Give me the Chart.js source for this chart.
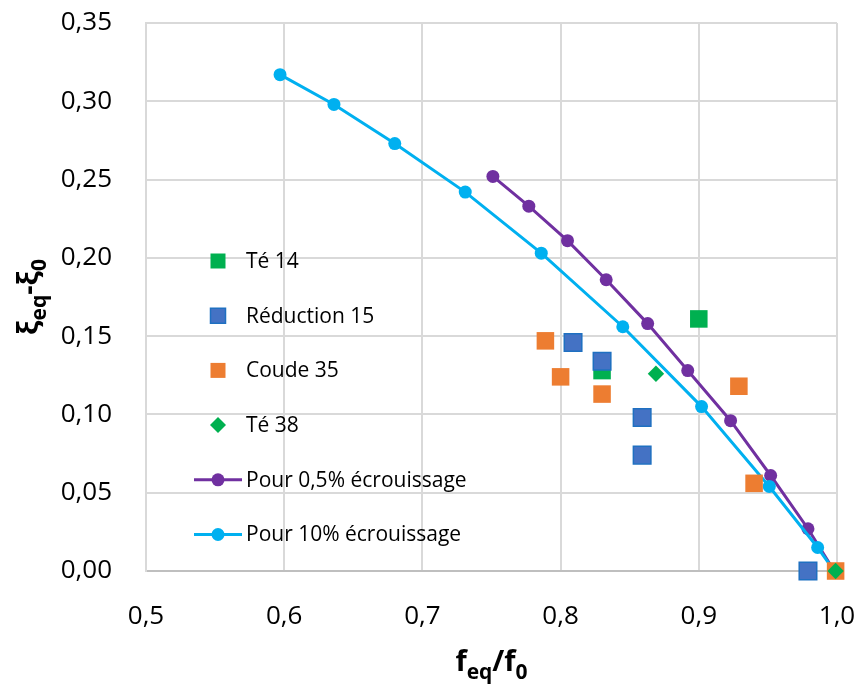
<!DOCTYPE html>
<html lang="fr">
<head>
<meta charset="utf-8">
<title>ξeq-ξ0 en fonction de feq/f0</title>
<script src="https://cdn.jsdelivr.net/npm/chart.js@4.4.1/dist/chart.umd.min.js"></script>
<style>
  html, body { margin: 0; padding: 0; background: #fff; }
  #wrap { width: 863px; height: 693px; }
</style>
</head>
<body>
<div id="wrap"><canvas id="chart" width="863" height="693"></canvas></div>
<script>
"use strict";

/* ─── Data ─── */
const xTicks = [0.5, 0.6, 0.7, 0.8, 0.9, 1.0];
const xTickLabels = ["0,5", "0,6", "0,7", "0,8", "0,9", "1,0"];
const yTicks = [0, 0.05, 0.10, 0.15, 0.20, 0.25, 0.30, 0.35];
const yTickLabels = ["0,00", "0,05", "0,10", "0,15", "0,20", "0,25", "0,30", "0,35"];

const te14X = [0.900, 0.830];
const te14Y = [0.161, 0.128];

const reduc15X = [0.809, 0.830, 0.859, 0.859, 0.979];
const reduc15Y = [0.146, 0.134, 0.098, 0.074, 0.000];

const coude35X = [0.789, 0.800, 0.830, 0.929, 0.940, 0.999];
const coude35Y = [0.147, 0.124, 0.113, 0.118, 0.056, 0.000];

const te38X = [0.869, 0.999];
const te38Y = [0.126, 0.000];

const ecr05X = [0.751, 0.777, 0.805, 0.833, 0.863, 0.892, 0.923, 0.952, 0.979, 0.998];
const ecr05Y = [0.252, 0.233, 0.211, 0.186, 0.158, 0.128, 0.096, 0.061, 0.027, 0.000];

const ecr10X = [0.597, 0.636, 0.680, 0.731, 0.786, 0.845, 0.902, 0.951, 0.986, 0.998];
const ecr10Y = [0.317, 0.298, 0.273, 0.242, 0.203, 0.156, 0.105, 0.054, 0.015, 0.000];

const pts = (xs, ys) => xs.map((x, i) => ({ x, y: ys[i] }));

const FONT = "'Open Sans', 'Noto Sans', sans-serif";
Chart.defaults.font.family = FONT;
Chart.defaults.color = "#000";

/* ─── Rich text (subscripts) ─── */
const drawRich = (ctx, parts, cx, y) => {
  const main = `bold 29px ${FONT}`;
  const sub = `bold 21px ${FONT}`;
  let total = 0;
  parts.forEach((p) => {
    ctx.font = p.sub ? sub : main;
    p.w = ctx.measureText(p.t).width;
    total += p.w;
  });
  let x = cx - total / 2;
  ctx.textAlign = "left";
  ctx.textBaseline = "alphabetic";
  ctx.fillStyle = "#000";
  parts.forEach((p) => {
    ctx.font = p.sub ? sub : main;
    ctx.fillText(p.t, x, p.sub ? y + 8 : y);
    x += p.w;
  });
};

/* ─── Legend (inside plot, left side) ─── */
const drawMarker = (ctx, ds, x, y) => {
  ctx.fillStyle = ds.pointBackgroundColor || ds.backgroundColor;
  ctx.strokeStyle = ds.pointBorderColor || ds.borderColor;
  ctx.lineWidth = ds.pointBorderWidth || 1;
  ctx.beginPath();
  if (ds.pointStyle === "rect") {
    ctx.rect(x - 7.5, y - 7.5, 15, 15);
  } else if (ds.pointStyle === "rectRot") {
    const h = 8;
    ctx.moveTo(x, y - h);
    ctx.lineTo(x + h, y);
    ctx.lineTo(x, y + h);
    ctx.lineTo(x - h, y);
    ctx.closePath();
  } else {
    ctx.arc(x, y, 6.5, 0, Math.PI * 2);
  }
  ctx.fill();
  if (ds.pointBorderWidth) ctx.stroke();
};

const drawLegend = (chart) => {
  const ctx = chart.ctx;
  chart.data.datasets.forEach((ds, row) => {
    const y = 261 + row * 54.7;
    if (ds.showLine) {
      ctx.strokeStyle = ds.borderColor;
      ctx.lineWidth = 3;
      ctx.beginPath();
      ctx.moveTo(194, y);
      ctx.lineTo(242, y);
      ctx.stroke();
    }
    drawMarker(ctx, ds, 218, y);
    ctx.font = `21px ${FONT}`;
    ctx.fillStyle = "#000";
    ctx.textAlign = "left";
    ctx.textBaseline = "middle";
    ctx.fillText(ds.label, 246, y + 1);
  });
};

const overlayPlugin = {
  id: "overlay",
  afterDraw(chart) {
    const { ctx, chartArea } = chart;
    ctx.save();
    drawRich(ctx, [{ t: "f" }, { t: "eq", sub: true }, { t: "/f" }, { t: "0", sub: true }],
      (chartArea.left + chartArea.right) / 2, 671);
    ctx.translate(38, (chartArea.top + chartArea.bottom) / 2);
    ctx.rotate(-Math.PI / 2);
    drawRich(ctx, [{ t: "ξ" }, { t: "eq", sub: true }, { t: "-ξ" }, { t: "0", sub: true }], 0, 0);
    ctx.restore();
    ctx.save();
    drawLegend(chart);
    ctx.restore();
  },
};

/* ─── Datasets ─── */
const scatterSet = (label, data, color, style, radius, order, border) => ({
  label,
  data,
  pointStyle: style,
  pointRadius: radius,
  pointHoverRadius: radius,
  pointBackgroundColor: color,
  pointBorderColor: border || color,
  pointBorderWidth: border ? 1.5 : 0,
  backgroundColor: color,
  borderColor: border || color,
  showLine: false,
  clip: false,
  order,
});

const lineSet = (label, data, color, order) => ({
  label,
  data,
  showLine: true,
  borderColor: color,
  backgroundColor: color,
  borderWidth: 3,
  pointStyle: "circle",
  pointRadius: 6.5,
  pointHoverRadius: 6.5,
  pointBackgroundColor: color,
  pointBorderColor: color,
  pointBorderWidth: 0,
  clip: false,
  order,
});

new Chart(document.getElementById("chart").getContext("2d"), {
  type: "scatter",
  data: {
    datasets: [
      scatterSet("Té 14", pts(te14X, te14Y), "#00b050", "rect", 12.4, 4),
      scatterSet("Réduction 15", pts(reduc15X, reduc15Y), "#4472c4", "rect", 12.4, 3, "#1f70c1"),
      scatterSet("Coude 35", pts(coude35X, coude35Y), "#ed7d31", "rect", 12.4, 2),
      scatterSet("Té 38", pts(te38X, te38Y), "#00b050", "rectRot", 8.2, 1),
      lineSet("Pour 0,5% écrouissage", pts(ecr05X, ecr05Y), "#7030a0", 6),
      lineSet("Pour 10% écrouissage", pts(ecr10X, ecr10Y), "#00b0f0", 5),
    ],
  },
  options: {
    responsive: false,
    animation: false,
    devicePixelRatio: 1,
    layout: { padding: { top: 23, right: 26, left: 0, bottom: 0 } },
    plugins: {
      legend: { display: false },
      tooltip: { enabled: false },
    },
    scales: {
      x: {
        type: "linear",
        min: 0.5,
        max: 1.0,
        afterBuildTicks: (s) => { s.ticks = xTicks.map((v) => ({ value: v })); },
        afterFit: (s) => { s.height = 122; },
        ticks: {
          callback: (v, i) => xTickLabels[i],
          padding: 0,
          font: { size: 26 },
          color: "#000",
          maxRotation: 0,
          autoSkip: false,
        },
        grid: { color: "#d9d9d9", lineWidth: 2, drawTicks: true, tickLength: 30, tickColor: "rgba(0,0,0,0)" },
        border: { color: "#bfbfbf", width: 2 },
      },
      y: {
        type: "linear",
        min: 0,
        max: 0.35,
        afterBuildTicks: (s) => { s.ticks = yTicks.map((v) => ({ value: v })); },
        afterFit: (s) => { s.width = 146; },
        ticks: {
          callback: (v, i) => yTickLabels[i],
          padding: 0,
          font: { size: 26 },
          color: "#000",
          autoSkip: false,
        },
        grid: { color: "#d9d9d9", lineWidth: 2, drawTicks: true, tickLength: 34, tickColor: "rgba(0,0,0,0)" },
        border: { color: "#d9d9d9", width: 2 },
      },
    },
  },
  plugins: [overlayPlugin],
});
</script>
</body>
</html>
